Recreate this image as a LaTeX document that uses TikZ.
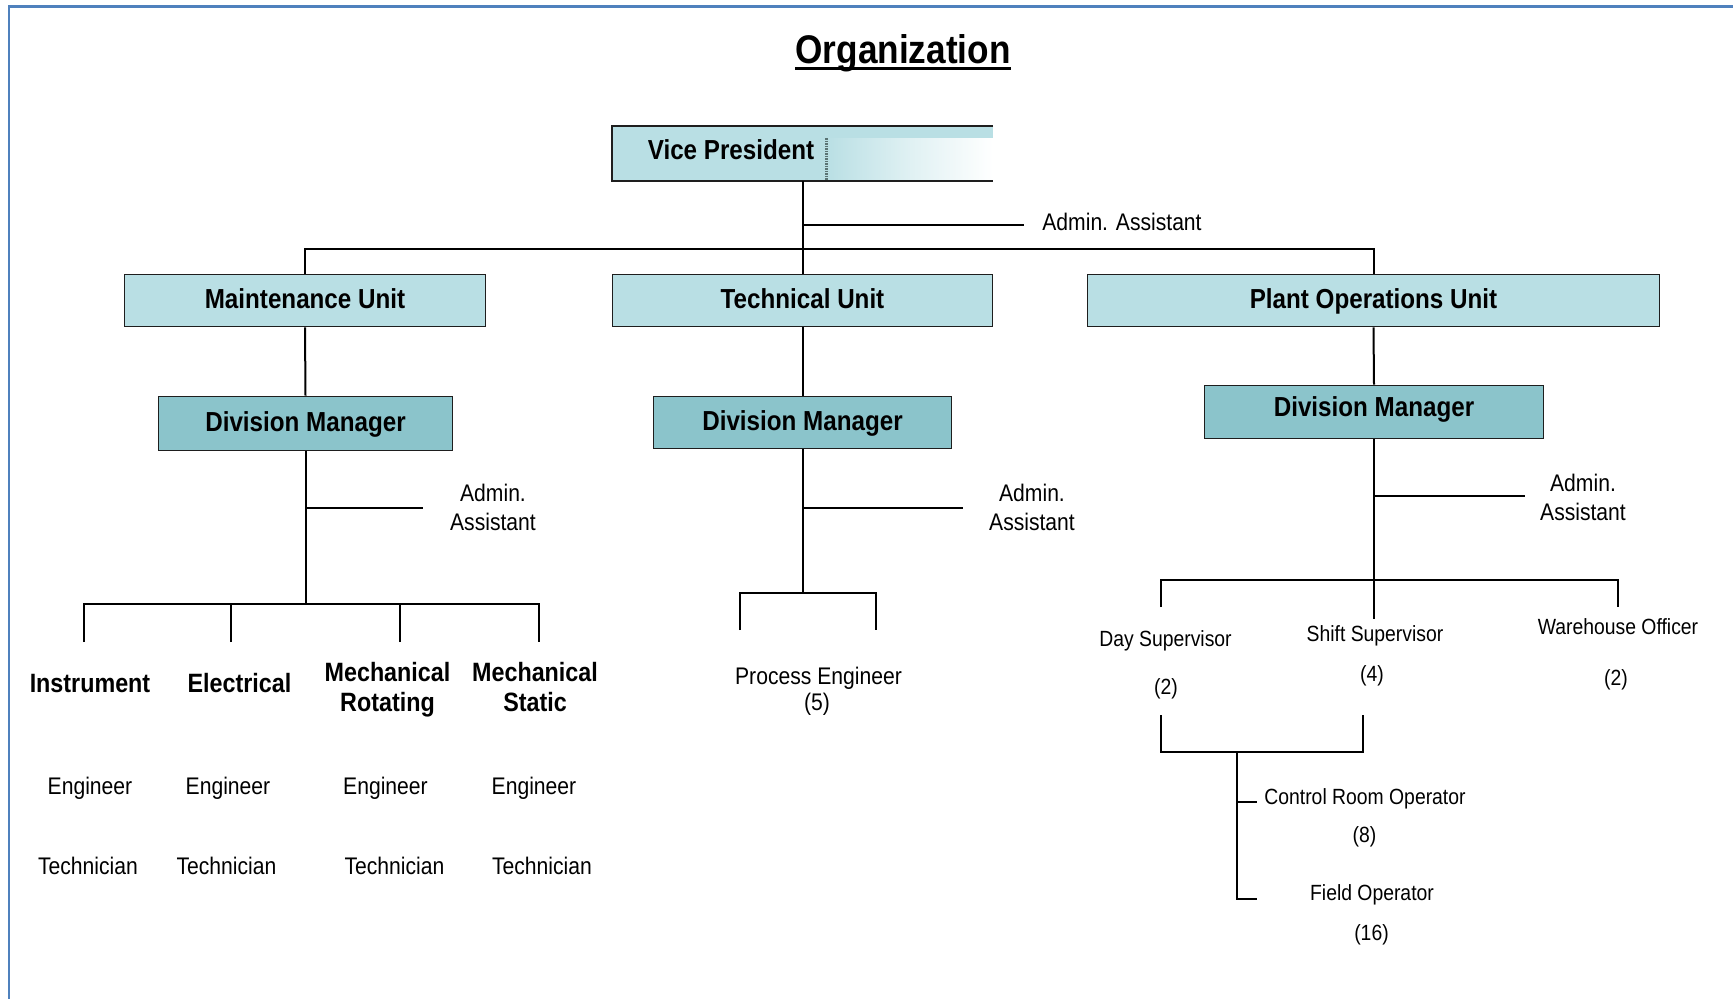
\documentclass[tikz,border=0pt]{standalone}
\usepackage{fontspec}
\setmainfont{Liberation Sans}[FakeStretch=0.88]

\definecolor{unitblue}{RGB}{185,223,228}
\definecolor{dmteal}{RGB}{139,196,203}
\definecolor{frameblue}{RGB}{79,129,189}
\definecolor{boxedge}{RGB}{30,30,30}
\definecolor{dotgray}{RGB}{90,115,115}

\newcommand\fsz[2]{\fontsize{#1}{#2}\selectfont}

\tikzset{
  boxbase/.style={draw=boxedge, line width=1.9pt, inner sep=0pt,
    text height=19.7pt, text depth=4pt, font=\fsz{27.5}{33}\bfseries},
  unitbox/.style={boxbase, fill=unitblue, minimum height=52pt},
  dmbox/.style={boxbase, fill=dmteal, minimum height=52pt},
  boxtext/.style={inner sep=0pt, text height=19.7pt, text depth=0pt, font=\fsz{27.5}{33}\bfseries},
  link/.style={line width=2pt, draw=black},
  lbl/.style={inner sep=0pt, text height=17.2pt, text depth=0pt, font=\fsz{24}{29}},
  small/.style={inner sep=0pt, text height=15.8pt, text depth=0pt, font=\fsz{22}{26}},
  pair/.style={inner sep=0pt, align=center, font=\fsz{24}{29}},
  catone/.style={inner sep=0pt, text height=19pt, text depth=0pt, font=\fsz{26.5}{30}\bfseries},
  cat/.style={inner sep=0pt, align=center, font=\fsz{26.5}{30}\bfseries},
}

\begin{document}
\begin{tikzpicture}[x=1pt,y=-1pt]
  % page
  \fill[white] (0,0) rectangle (1733,999);
  \useasboundingbox (0,0) rectangle (1733,999);
  \draw[frameblue, line width=2.6pt] (9,999) -- (9,6.5) -- (1733,6.5);

  % title
  \node[inner sep=0pt, text height=29.4pt, text depth=0pt, font=\fsz{40}{48}\bfseries] (title) at (903,49) {Organization};
  \draw[line width=2.6pt] ([yshift=-4.5pt]title.south west) -- ([yshift=-4.5pt]title.south east);

  % vice president box (open on the right, fading to white)
  \node[fill=unitblue, inner sep=0pt, minimum width=381pt, minimum height=55pt] (vp) at (802.5,153.5) {};
  \shade[left color=unitblue, right color=white, middle color=unitblue!45!white] (826,138) rectangle (vp.south east);
  \draw[dotgray, line width=3pt, dash pattern=on 1.5pt off 1pt] (826,138) -- (826,180);
  \draw[line width=1.9pt, draw=boxedge] (vp.north east) -- (vp.north west) -- (vp.south west) -- (vp.south east);
  \node[boxtext] (vpt) at (731,150) {Vice President};

  % units
  \node[unitbox, minimum width=361pt] (mu) at (305,300.5) {Maintenance Unit};
  \node[unitbox, minimum width=380pt] (tu) at (802.5,300.5) {Technical Unit};
  \node[unitbox, minimum width=572pt] (pu) at (1373.5,300.5) {Plant Operations Unit};

  % division managers
  \node[dmbox, minimum width=294pt, minimum height=54pt] (dm1) at (305.5,423.5) {Division Manager};
  \node[dmbox, minimum width=298pt] (dm2) at (802.5,422.5) {Division Manager};
  \node[dmbox, minimum width=339pt, minimum height=53pt, text depth=10pt] (dm3) at (1374,412) {Division Manager};

  % admin assistants
  \node[lbl] (adm0) at (1122,222) {Admin. Assistant};
  \node[pair] (adm1) at (493,507.5) {Admin.\\Assistant};
  \node[pair] (adm2) at (1032,507.5) {Admin.\\Assistant};
  \node[pair] (adm3) at (1583,497.5) {Admin.\\Assistant};

  % maintenance disciplines
  \node[catone] (instr) at (90,683) {Instrument};
  \node[catone] (elec) at (239.5,683) {Electrical};
  \node[cat] (mrot) at (387.5,690) {Mechanical\\Rotating};
  \node[cat] (mstat) at (535,687) {Mechanical\\Static};

  \node[lbl] (eng1) at (90,786) {Engineer};
  \node[lbl] (eng2) at (228,786) {Engineer};
  \node[lbl] (eng3) at (385.5,786) {Engineer};
  \node[lbl] (eng4) at (534,786) {Engineer};
  \node[lbl] (tec1) at (88,866) {Technician};
  \node[lbl] (tec2) at (226.5,866) {Technician};
  \node[lbl] (tec3) at (394.5,866) {Technician};
  \node[lbl] (tec4) at (542,866) {Technician};

  % technical staff
  \node[lbl] (pe) at (818.5,676) {Process Engineer};
  \node[lbl] (pen) at (817,702) {(5)};

  % plant operations staff
  \node[small] (day) at (1165.5,639) {Day Supervisor};
  \node[small] (dayn) at (1166,687) {(2)};
  \node[small] (shift) at (1375,634) {Shift Supervisor};
  \node[small] (shiftn) at (1372,674) {(4)};
  \node[small] (wh) at (1618,627) {Warehouse Officer};
  \node[small] (whn) at (1616,678) {(2)};
  \node[small] (cro) at (1365,797) {Control Room Operator};
  \node[small] (cron) at (1364.5,835) {(8)};
  \node[small] (fo) at (1372,893) {Field Operator};
  \node[small] (fon) at (1371.5,933) {(16)};

  % ---- connectors ----
  \coordinate (vpadm) at (802.5,225);
  \coordinate (topbus) at (802.5,249);
  \draw[link] (vp.south) -- (tu.north);
  \draw[link] (vpadm) -- ([xshift=-18pt]adm0.west |- vpadm);
  \draw[link] (mu.north) |- (topbus) -| (pu.north);

  % maintenance branch
  \coordinate (m1adm) at (305.5,508);
  \coordinate (m1bus) at (305.5,604);
  \coordinate (d1) at (84,642);
  \coordinate (d2) at (231,642);
  \coordinate (d3) at (400,642);
  \coordinate (d4) at (539,642);
  \draw[link] (mu.south) -- (dm1.north);
  \draw[link] (dm1.south) -- (m1bus);
  \draw[link] (m1adm) -- ([xshift=-27pt]adm1.west |- m1adm);
  \draw[link] (d1) |- (d4 |- m1bus) -- (d4);
  \draw[link] (d2) -- (d2 |- m1bus);
  \draw[link, line width=2.6pt] (d3) -- (d3 |- m1bus);

  % technical branch
  \coordinate (t2adm) at (802.5,508);
  \coordinate (t2bus) at (802.5,593);
  \coordinate (pe1) at (740,630);
  \coordinate (pe2) at (876,630);
  \draw[link] (tu.south) -- (dm2.north);
  \draw[link] (dm2.south) -- (t2bus);
  \draw[link] (t2adm) -- ([xshift=-26pt]adm2.west |- t2adm);
  \draw[link] (pe1) |- (pe2 |- t2bus) -- (pe2);

  % plant operations branch
  \coordinate (p3adm) at (1374,496);
  \coordinate (p3bus) at (1374,580);
  \coordinate (shiftend) at (1374,619);
  \coordinate (dayend) at (1161,607);
  \coordinate (whend) at (1618,607);
  \draw[link] (pu.south) -- (dm3.north);
  \draw[link] (dm3.south) -- (shiftend);
  \draw[link] (p3adm) -- ([xshift=-15pt]adm3.west |- p3adm);
  \draw[link] (dayend) |- (whend |- p3bus) -- (whend);

  % operators under the supervisors
  \coordinate (b1) at (1161,715);
  \coordinate (b2) at (1363,715);
  \coordinate (opbus) at (1237,752);
  \coordinate (crojoin) at (1237,802);
  \coordinate (croend) at (1257,802);
  \coordinate (fojoin) at (1237,899);
  \coordinate (foend) at (1257,899);
  \draw[link] (b1) |- (opbus) -| (b2);
  \draw[link] (opbus) -- (fojoin) -- (foend);
  \draw[link] (crojoin) -- (croend);
\end{tikzpicture}
\end{document}
